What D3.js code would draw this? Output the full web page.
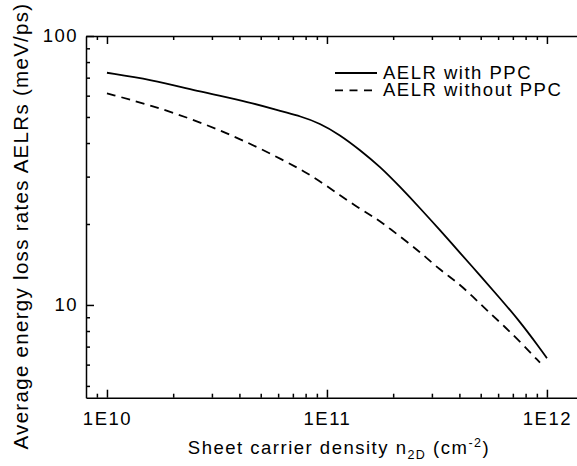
<!DOCTYPE html>
<html>
<head>
<meta charset="utf-8">
<script src="https://cdn.jsdelivr.net/npm/d3@7"></script>
<style>
  body { margin: 0; background: #fff; }
  svg text { font-family: "Liberation Sans", Arial, Helvetica, sans-serif; fill: #000; letter-spacing: 1.5px; }
  .axis path, .axis line { stroke: #000; stroke-width: 1.5; }
</style>
</head>
<body>
<svg id="chart" width="577" height="466"></svg>
<script>
// density (cm^-2) and AELR with PPC (meV/ps)
var density = [1e10, 1.57e10, 2.65e10, 4.47e10, 6.3e10, 7.53e10, 9.29e10, 1.145e11, 1.413e11,
               1.742e11, 2.148e11, 2.65e11, 3.26e11, 4.03e11, 4.96e11, 6.11e11, 7.54e11, 9.29e11, 1e12];
var withPPC = [73.0, 69.0, 62.1, 56.7, 52.3, 50.4, 47.4, 42.9, 37.7,
               32.7, 27.5, 22.9, 19.0, 15.6, 12.9, 10.6, 8.67, 6.90, 6.34];

// density (cm^-2) and AELR without PPC (meV/ps)
var densityNo = [1e10, 1.57e10, 2.65e10, 4.47e10, 6.3e10, 7.94e10, 9.62e10, 1.145e11, 1.365e11,
                 1.623e11, 1.892e11, 2.69e11, 3.26e11, 3.89e11, 4.63e11, 5.41e11, 6.44e11, 7.67e11, 9.3e11];
var withoutPPC = [61.2, 55.4, 48.0, 39.9, 34.6, 31.3, 28.3, 25.6, 23.2,
                  21.3, 19.5, 15.6, 13.5, 12.2, 10.7, 9.44, 8.30, 7.20, 6.10];

var xMajor = [1e10, 1e11, 1e12];
var xLabels = ['1E10', '1E11', '1E12'];
var yMajor = [10, 100];
var yLabels = ['10', '100'];

var svg = d3.select('#chart');
var padL = 86, padR = 577, padT = 36, padB = 397.7;

var x = d3.scaleLog().domain([8.03e9, 1.37e12]).range([padL, padR]);
var y = d3.scaleLog().domain([4.52, 100]).range([padB, padT]);

// minor ticks: 2..9 of each decade inside the domain
function minors(scale) {
    var out = [];
    var d = scale.domain();
    var start = Math.floor(Math.log10(d[0]));
    var end = Math.ceil(Math.log10(d[1]));
    for (var e = start; e <= end; e++) {
        for (var k = 2; k <= 9; k++) {
            var v = k * Math.pow(10, e);
            if (v >= d[0] && v <= d[1]) out.push(v);
        }
    }
    return out;
}

// bottom axis
svg.append('g').attr('class', 'axis')
    .attr('transform', 'translate(0,' + padB + ')')
    .call(d3.axisBottom(x).tickValues(minors(x)).tickSizeInner(-4).tickSizeOuter(0).tickFormat(''));
svg.append('g').attr('class', 'axis xmaj')
    .attr('transform', 'translate(0,' + padB + ')')
    .call(d3.axisBottom(x).tickValues(xMajor).tickSizeInner(-8).tickSizeOuter(0)
        .tickPadding(14).tickFormat(function (d, i) { return xLabels[i]; }))
    .call(function (g) { g.select('.domain').remove(); });

// top axis
svg.append('g').attr('class', 'axis')
    .attr('transform', 'translate(0,' + padT + ')')
    .call(d3.axisTop(x).tickValues(minors(x)).tickSizeInner(-4).tickSizeOuter(0).tickFormat(''));
svg.append('g').attr('class', 'axis')
    .attr('transform', 'translate(0,' + padT + ')')
    .call(d3.axisTop(x).tickValues(xMajor).tickSizeInner(-8).tickSizeOuter(0).tickFormat(''))
    .call(function (g) { g.select('.domain').remove(); });

// left axis
svg.append('g').attr('class', 'axis')
    .attr('transform', 'translate(' + padL + ',0)')
    .call(d3.axisLeft(y).tickValues(minors(y)).tickSizeInner(-4).tickSizeOuter(0).tickFormat(''));
svg.append('g').attr('class', 'axis ymaj')
    .attr('transform', 'translate(' + padL + ',0)')
    .call(d3.axisLeft(y).tickValues(yMajor).tickSizeInner(-8).tickSizeOuter(0)
        .tickPadding(8).tickFormat(function (d, i) { return yLabels[i]; }))
    .call(function (g) { g.select('.domain').remove(); });

svg.selectAll('.xmaj text, .ymaj text')
    .style('font-size', '18.5px');

// curves (smoothed through the read-off points)
var line = d3.line().curve(d3.curveBasis);

svg.append('path')
    .attr('d', line(density.map(function (d, i) { return [x(d), y(withPPC[i])]; })))
    .attr('fill', 'none').attr('stroke', '#000').attr('stroke-width', 1.8);

svg.append('path')
    .attr('d', line(densityNo.map(function (d, i) { return [x(d), y(withoutPPC[i])]; })))
    .attr('fill', 'none').attr('stroke', '#000').attr('stroke-width', 1.8)
    .attr('stroke-dasharray', '9,6');

// legend
var legend = [
    { label: 'AELR with PPC', dash: null },
    { label: 'AELR without PPC', dash: '8,6.5' }
];
legend.forEach(function (d, i) {
    var ly = 73 + i * 17.3;
    svg.append('line')
        .attr('x1', 335).attr('x2', 377).attr('y1', ly).attr('y2', ly)
        .attr('stroke', '#000').attr('stroke-width', 1.8)
        .attr('stroke-dasharray', d.dash);
    svg.append('text')
        .attr('x', 383).attr('y', ly + 6)
        .style('font-size', '18.5px')
        .text(d.label);
});

// axis titles
var xt = svg.append('text')
    .attr('x', 339).attr('y', 454)
    .attr('text-anchor', 'middle')
    .style('font-size', '18.5px');
xt.append('tspan').text('Sheet carrier density n');
xt.append('tspan').attr('dy', 5).style('font-size', '12.5px').text('2D');
xt.append('tspan').attr('dy', -5).text(' (cm');
xt.append('tspan').attr('dy', -7).style('font-size', '12.5px').text('-2');
xt.append('tspan').attr('dy', 7).text(')');

svg.append('text')
    .attr('transform', 'translate(28,226) rotate(-90)')
    .attr('text-anchor', 'middle')
    .style('font-size', '20.5px')
    .style('letter-spacing', '1.3px')
    .text('Average energy loss rates AELRs (meV/ps)');
</script>
</body>
</html>
